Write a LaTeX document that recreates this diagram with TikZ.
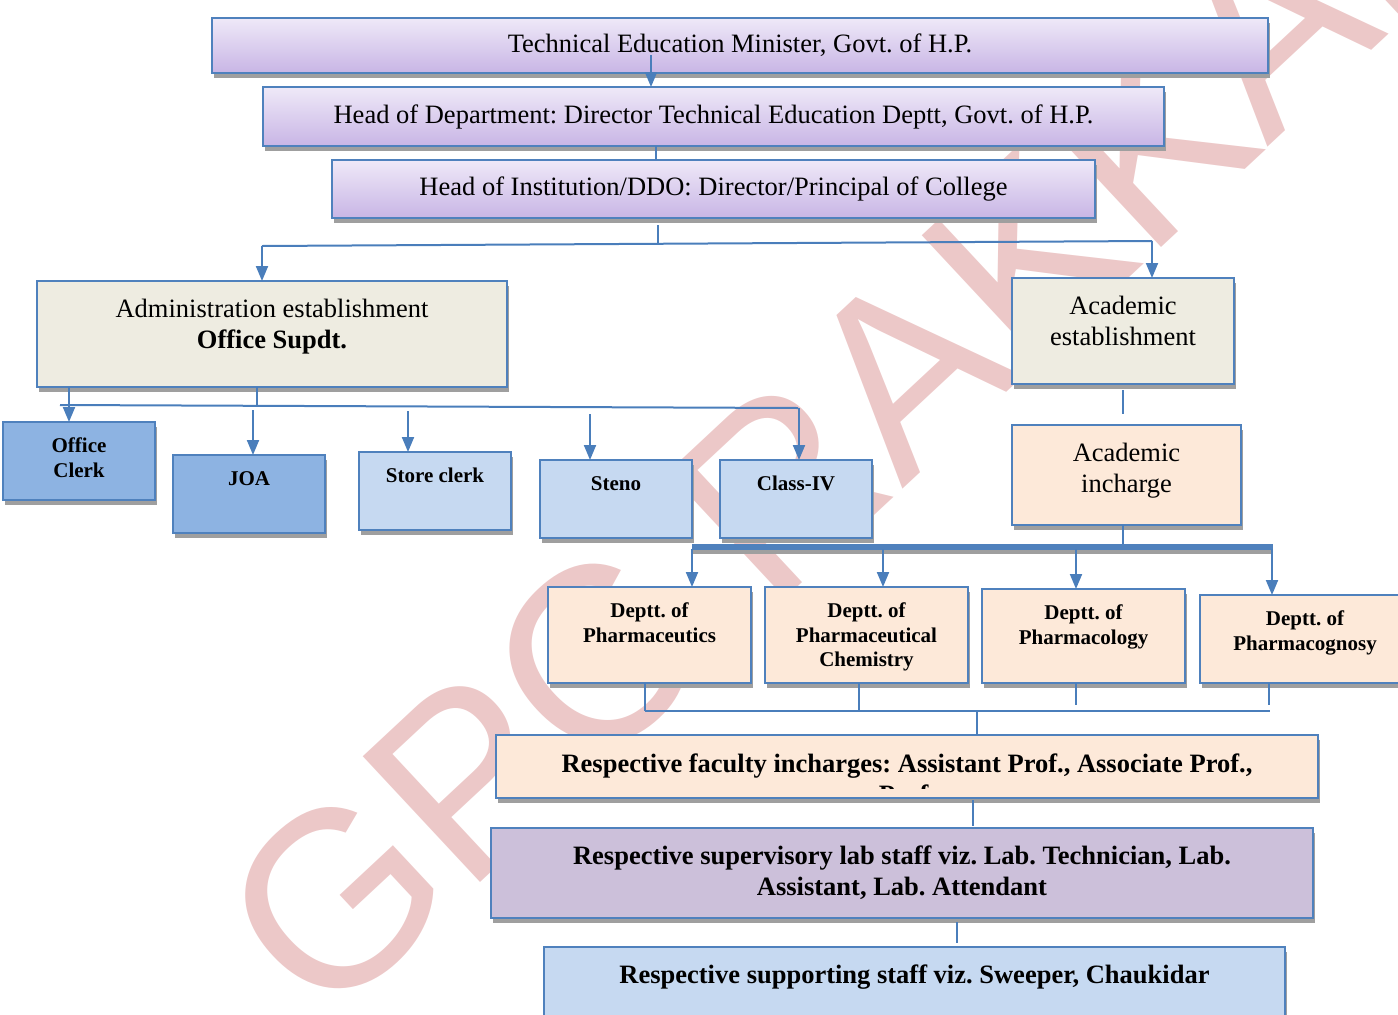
\documentclass[tikz,border=0pt]{standalone}
\usepackage{fontspec}
\setmainfont{Liberation Serif}
\newfontfamily\wmfont{Liberation Sans}
\frenchspacing
\usetikzlibrary{arrows.meta}
\usetikzlibrary{shadows}

\definecolor{boxline}{HTML}{4F81BD}
\definecolor{conncol}{HTML}{4A7EBB}
\definecolor{lavtop}{HTML}{EFE9F8}
\definecolor{lavbot}{HTML}{C8B5E5}
\definecolor{tanfill}{HTML}{EEECE1}
\definecolor{peach}{HTML}{FDE9D9}
\definecolor{lilac}{HTML}{CCC0DA}
\definecolor{paleblue}{HTML}{C6D9F1}
\definecolor{midblue}{HTML}{8DB3E2}
\definecolor{shadowgray}{HTML}{9F9F9F}
\definecolor{wmpink}{HTML}{ECC8C8}

\newcommand{\chartbig}{\fontsize{26.5}{31}\selectfont}
\newcommand{\chartsmall}{\bfseries\fontsize{21}{24.5}\selectfont}

\tikzset{
  box/.style = {draw = boxline, line width = 2.2pt, anchor = north west,
    inner sep = 0pt, outer sep = 0pt,
    drop shadow = {shadow xshift = 1.5pt, shadow yshift = -4.5pt,
      fill = shadowgray, opacity = 1}},
  headbox/.style = {box, top color = lavtop, bottom color = lavbot,
    font = \chartbig},
  bigtext/.style = {label = {[anchor = north, yshift = -18pt, inner sep = 0pt,
      align = center, font = \chartbig]north:{#1}}},
  smalltext/.style = {label = {[anchor = north, yshift = -16pt, inner sep = 0pt,
      align = center, font = \chartsmall]north:{#1}}},
  conn/.style = {draw = conncol, line width = 2pt},
  arr/.style = {conn, -{Triangle[length = 15pt, width = 12pt]}},
}

\begin{document}
\begin{tikzpicture}[x = 1pt, y = -1pt]
  \useasboundingbox (0, 0) rectangle (1398, 1015);
  \clip (0, 0) rectangle (1398, 1015);

  % watermark
  \node[rotate = 43, inner sep = 0pt, text = wmpink,
    font = \wmfont\fontsize{250}{250}\selectfont] (wm) at (864, 407) {GPC RAKKAR};

  % head of the chart
  \node[headbox, minimum width = 1056pt, minimum height = 55pt] (mins) at (212, 18)
    {Technical Education Minister, Govt. of H.P.};
  \node[headbox, minimum width = 901pt, minimum height = 59pt] (hod) at (263, 87)
    {Head of Department: Director Technical Education Deptt, Govt. of H.P.};
  \node[headbox, minimum width = 763pt, minimum height = 58pt] (hoi) at (332, 160)
    {Head of Institution/DDO: Director/Principal of College};

  % establishments
  \node[box, fill = tanfill, minimum width = 470pt, minimum height = 106pt,
    bigtext = {Administration establishment\\\textbf{Office Supdt.}}] (adm) at (37, 281) {};
  \node[box, fill = tanfill, minimum width = 222pt, minimum height = 106pt,
    bigtext = {Academic\\establishment}] (acad) at (1012, 278) {};
  \node[box, fill = peach, minimum width = 229pt, minimum height = 100pt,
    bigtext = {Academic\\incharge}] (inch) at (1012, 425) {};

  % office staff
  \foreach \n/\x/\y/\c/\txt in {clerk/3/422/midblue/{Office\\Clerk},
    joa/173/455/midblue/JOA, store/359/452/paleblue/{Store clerk},
    steno/540/460/paleblue/Steno, cls/720/460/paleblue/Class-IV}{
    \node[box, fill = \c, minimum width = 152pt, minimum height = 78pt,
      smalltext = {\txt}] (\n) at (\x, \y) {};
  }

  % departments
  \foreach \n/\x/\y/\w/\h/\txt in {dpc/548/587/203/96/{Deptt. of\\Pharmaceutics},
    dpch/765/587/203/96/{Deptt. of\\Pharmaceutical\\Chemistry},
    dpl/982/589/203/94/{Deptt. of\\Pharmacology},
    dpg/1200/595/210/88/{Deptt. of\\Pharmacognosy}}{
    \node[box, fill = peach, minimum width = \w pt, minimum height = \h pt,
      smalltext = {\txt}] (\n) at (\x, \y) {};
  }

  % staff under the departments
  \node[box, fill = peach, minimum width = 822pt, minimum height = 63pt,
    path picture = {
      \clip (path picture bounding box.north west) rectangle
        ([yshift = 10pt]path picture bounding box.south east);
      \node[anchor = north, align = center, inner sep = 0pt,
        font = \chartbig\bfseries] at ([yshift = -12pt]path picture bounding box.north)
        {Respective faculty incharges: Assistant Prof., Associate Prof.,\\Prof.};
    }] (fac) at (496, 735) {};
  \node[box, fill = lilac, minimum width = 822pt, minimum height = 90pt,
    bigtext = {\textbf{Respective supervisory lab staff viz. Lab. Technician, Lab.}\\
      \textbf{Assistant, Lab. Attendant}}] (sup) at (491, 828) {};
  \node[box, fill = paleblue, minimum width = 741pt, minimum height = 90pt,
    bigtext = {\textbf{Respective supporting staff viz. Sweeper, Chaukidar}}] (supp) at (544, 947) {};

  % connectors at the head
  \coordinate (m1) at ([xshift = -89pt, yshift = 18pt]mins.south);
  \draw[arr] (m1) -- (m1 |- hod.north);
  \coordinate (h1) at ([xshift = -58pt]hod.south);
  \draw[conn] (h1) -- (h1 |- hoi.north);

  \coordinate (bl) at (262, 246);
  \coordinate (br) at (1152, 241);
  \coordinate (bi) at (658, 243.7);
  \draw[conn] (bl) -- (br);
  \draw[conn] ([yshift = -7pt]bi |- hoi.south) -- (bi);
  \draw[arr] (bl) -- (bl |- adm.north);
  \draw[arr] (br) -- (br |- acad.north);

  % academic side
  \draw[conn, shorten <= 6pt, shorten >= 11pt] (acad.south) -- (acad.south |- inch.north);
  \coordinate (tl) at (692, 547);
  \coordinate (tr) at (1273, 547);
  \draw[conn] (acad.south |- inch.south) -- (acad.south |- tl);
  \draw[line width = 6pt, shadowgray] ([yshift = -4pt]tl) -- ([yshift = -4pt]tr);
  \draw[line width = 6pt, boxline] (tl) -- (tr);
  \foreach \x/\n in {692/dpc, 883/dpch, 1076/dpl, 1272/dpg}{
    \coordinate (t\n) at (\x, 549);
    \draw[arr] (t\n) -- (t\n |- \n.north);
  }

  \coordinate (fl) at (645, 711);
  \coordinate (fr) at (1270, 711);
  \coordinate (f2) at (859, 711);
  \coordinate (f3) at (1076, 705);
  \coordinate (f4) at (1269, 705);
  \coordinate (f0) at (977, 711);
  \draw[conn] (fl) -- (fr);
  \draw[conn] (fl |- dpc.south) -- (fl);
  \draw[conn] (f2 |- dpch.south) -- (f2);
  \draw[conn] (f3 |- dpl.south) -- (f3);
  \draw[conn] (f4 |- dpg.south) -- (f4);
  \draw[conn] (f0) -- (f0 |- fac.north);
  \coordinate (s1) at (973, 800);
  \coordinate (s2) at (957, 922);
  \draw[conn, shorten >= 2pt] (s1) -- (s1 |- sup.north);
  \draw[conn, shorten >= 4pt] (s2) -- (s2 |- supp.north);

  % office side
  \coordinate (al) at (60, 405);
  \coordinate (ar) at (798, 408);
  \coordinate (a0) at (257, 406.6);
  \coordinate (a1) at (69, 400);
  \draw[conn] (al) -- (ar);
  \draw[conn] (a0 |- adm.south) -- (a0);
  \draw[arr] (a1 |- adm.south) -- (a1 |- clerk.north);
  \foreach \x/\y/\n in {253/410/joa, 408/411/store, 590/414/steno, 799/408/cls}{
    \coordinate (o\n) at (\x, \y);
    \draw[arr] (o\n) -- (o\n |- \n.north);
  }
\end{tikzpicture}
\end{document}
